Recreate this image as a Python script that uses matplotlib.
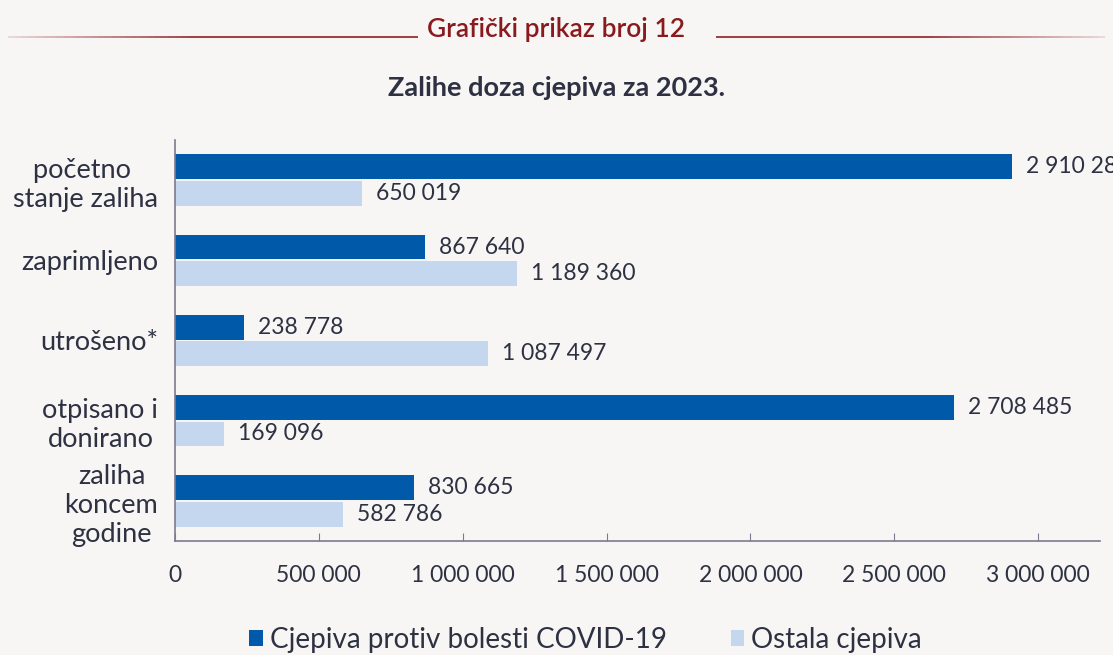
import numpy as np
import matplotlib.pyplot as plt
from matplotlib.ticker import FuncFormatter
from matplotlib.collections import LineCollection
from matplotlib.colors import to_rgba

plt.close("all")

# -------------------------------------------------
# Podaci
# -------------------------------------------------
kategorije = ["početno \nstanje zaliha", "zaprimljeno", "utrošeno*",
              "otpisano i\ndonirano", "zaliha\nkoncem\ngodine"]
covid = [2910288, 867640, 238778, 2708485, 830665]
ostala = [650019, 1189360, 1087497, 169096, 582786]
serije = ["Cjepiva protiv bolesti COVID-19", "Ostala cjepiva"]

# -------------------------------------------------
# Stil
# -------------------------------------------------
BG = "#f7f6f4"
TAMNO = "#005aa9"
SVIJETLO = "#c5d7ee"
OS = "#7b7b8e"
TEKST = "#2d3142"
CRVENA = "#8b1a1f"

plt.rcParams['font.family'] = ['Lato', 'DejaVu Sans']

W, H = 1113, 655
fig = plt.figure(figsize=(W / 100, H / 100), dpi=100, facecolor=BG)
ax = fig.add_axes([175 / W, 1 - 541 / H, 925 / W, 401 / H])
ax.set_facecolor(BG)

y = np.arange(len(kategorije))
h = 0.31
b1 = ax.barh(y - h / 2 - 0.01, covid, height=h, color=TAMNO, label=serije[0])
b2 = ax.barh(y + h / 2 + 0.01, ostala, height=h, color=SVIJETLO, label=serije[1])

fmt = lambda v: f"{int(v):,}".replace(",", " ")

for bars, vals in [(b1, covid), (b2, ostala)]:
    for r, v in zip(bars, vals):
        ax.annotate(fmt(v), (v, r.get_y() + r.get_height() / 2),
                    xytext=(10, 0), textcoords="offset points",
                    va="center", ha="left", fontsize=16.5, color=TEKST,
                    annotation_clip=False)

ax.set_ylim(len(kategorije) - 0.5, -0.5)
ax.set_xlim(0, 3215000)
ax.set_xticks(np.arange(0, 3000001, 500000))
ax.xaxis.set_major_formatter(FuncFormatter(lambda v, p: fmt(v)))
ax.set_yticks(y)
ax.set_yticklabels(kategorije, fontsize=19.5, color=TEKST, multialignment="center")

ax.tick_params(axis="x", direction="in", length=6, color=OS, pad=17,
               labelsize=16.5, labelcolor=TEKST)
ax.tick_params(axis="y", length=0, pad=12)

for s in ["top", "right"]:
    ax.spines[s].set_visible(False)
for s in ["left", "bottom"]:
    ax.spines[s].set_color(OS)
    ax.spines[s].set_linewidth(1.2)

# -------------------------------------------------
# Naslovi
# -------------------------------------------------
fig.text(0.5, 1 - 30 / H, "Grafički prikaz broj 12", ha="center", va="center",
         fontsize=19, color=CRVENA, fontweight="semibold")


def linija(x0, x1, fade_left):
    # linija s blagim prijelazom boje prema kraju
    xs = np.linspace(x0, x1, 60)
    seg = [[(xs[i] / W, 1 - 37 / H), (xs[i + 1] / W, 1 - 37 / H)] for i in range(59)]
    t = np.linspace(0, 1, 59)
    if not fade_left:
        t = t[::-1]
    base = np.array(to_rgba(CRVENA))
    cols = [np.append(base[:3], 0.15 + 0.75 * min(1, k * 2.2)) for k in t]
    fig.add_artist(LineCollection(seg, colors=cols, linewidths=1.3,
                                  transform=fig.transFigure))


linija(8, 418, True)
linija(716, 1105, False)

fig.text(0.5, 1 - 88 / H, "Zalihe doza cjepiva za 2023.", ha="center", va="center",
         fontsize=19.5, color=TEKST, fontweight="bold")

# -------------------------------------------------
# Legenda
# -------------------------------------------------
fig.legend(handles=[b1, b2], loc="center", bbox_to_anchor=(0.526, 1 - 640 / H),
           ncol=2, frameon=False, fontsize=20, handlelength=0.5, handleheight=0.5,
           handletextpad=0.25, columnspacing=2.3, labelcolor=TEKST)

fig.savefig("out.png", dpi=100, facecolor=BG)
